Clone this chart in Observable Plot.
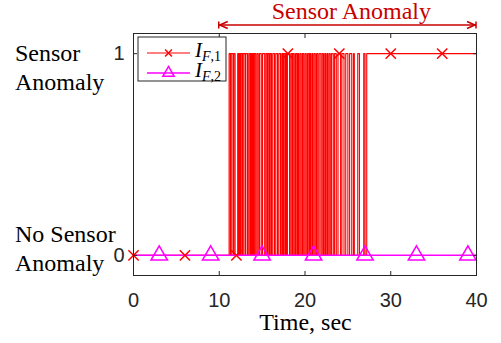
<!DOCTYPE html>
<html><head><meta charset="utf-8">
<script src="https://cdn.jsdelivr.net/npm/d3@7"></script>
<script src="https://cdn.jsdelivr.net/npm/@observablehq/plot@0.6"></script>
<style>body{margin:0;background:#fff} #chart{width:501px;height:343px;position:relative}</style>
</head><body><div id="chart"></div>
<script>
// ---- data ----
const xTicks = [0, 10, 20, 30, 40];
const yTicks = [0, 1];
const tStart = 0, tEnd = 40;
// times at which I_F,1 flips (first flip 0 -> 1)
const toggleTimes = [
  11.15, 11.30, 11.40, 11.60, 11.70, 11.85, 12.15, 12.25, 12.35, 12.45,
  12.55, 12.70, 12.80, 13.00, 13.10, 13.30, 13.45, 13.60, 13.70, 13.80,
  13.90, 14.00, 14.10, 14.25, 14.40, 14.55, 14.70, 14.90, 15.05, 15.30,
  15.45, 15.60, 15.70, 15.85, 15.95, 16.10, 16.25, 16.45, 16.60, 16.80,
  16.95, 17.15, 17.30, 17.40, 17.50, 17.65, 17.75, 17.85, 17.95, 18.20,
  18.35, 18.50, 18.60, 18.75, 18.90, 19.05, 19.15, 19.25, 19.40, 19.55,
  19.70, 19.85, 20.00, 20.15, 20.30, 20.45, 20.55, 20.65, 20.80, 20.90,
  21.05, 21.20, 21.35, 21.50, 21.65, 21.85, 22.00, 22.15, 22.30, 22.40,
  22.55, 22.65, 22.80, 22.95, 23.10, 23.30, 23.45, 23.65, 23.85, 24.15,
  24.30, 24.55, 24.75, 25.00, 25.20, 25.45, 25.65, 25.75, 26.15, 26.35,
  26.85, 27.00, 27.20
];
const redMarkerTimes = [0, 6, 12, 18, 24, 30, 36];
const redMarkerValues = [0, 0, 0, 1, 1, 1, 1];
const magentaLineTimes = [0, 40];
const magentaLineValues = [0, 0];
const magentaMarkerTimes = [3, 9, 15, 21, 27, 33, 39];
const magentaMarkerValues = [0, 0, 0, 0, 0, 0, 0];
const annotationSpan = [10, 40];
const annotationText = "Sensor Anomaly";
const stateLabels = [{v: 1, lines: ["Sensor", "Anomaly"]}, {v: 0, lines: ["No Sensor", "Anomaly"]}];
const legendItems = [{sub: "1", color: "#ff0000", symbol: "times"}, {sub: "2", color: "#ff00ff", symbol: "triangle"}];

// ---- tables ----
const redSeries = [{t: tStart, v: 0}];
toggleTimes.forEach((t, i) => redSeries.push({t, v: i % 2 === 0 ? 1 : 0}));
redSeries.push({t: tEnd, v: redSeries[redSeries.length - 1].v});
const redMarkers = redMarkerTimes.map((t, i) => ({t, v: redMarkerValues[i]}));
const magentaLine = magentaLineTimes.map((t, i) => ({t, v: magentaLineValues[i]}));
const magentaMarkers = magentaMarkerTimes.map((t, i) => ({t, v: magentaMarkerValues[i]}));

const axisColor = "#262626";
const serif = "'Liberation Serif', 'Times New Roman', serif";
const sans = "'Liberation Sans', Arial, Helvetica, sans-serif";
const RED = "#ff0000", MAG = "#ff00ff", DARKRED = "#c80000";

const plot = Plot.plot({
  width: 501, height: 343,
  marginLeft: 133, marginRight: 25, marginTop: 33, marginBottom: 68,
  x: {domain: [0, 40]},
  y: {domain: [-0.1, 1.1]},
  style: {fontFamily: sans, fontSize: "20px", color: axisColor, background: "white", overflow: "visible"},
  marks: [
    Plot.line(redSeries, {x: "t", y: "v", curve: "step-after", stroke: RED, strokeWidth: 1.1}),
    Plot.line(magentaLine, {x: "t", y: "v", stroke: MAG, strokeWidth: 1.5}),
    Plot.dot(redMarkers, {x: "t", y: "v", symbol: "times", r: 4.75, stroke: RED, strokeWidth: 1.5}),
    Plot.dot(magentaMarkers, {x: "t", y: "v", symbol: "triangle", r: 6.1, stroke: MAG, strokeWidth: 1.5, fill: "none"}),
    Plot.frame({stroke: axisColor, strokeWidth: 1}),
    Plot.axisX({anchor: "bottom", ticks: xTicks, tickSize: -4, tickPadding: 21, tickFormat: d => String(d), label: null}),
    Plot.axisX({anchor: "top", ticks: xTicks, tickSize: -4, tickFormat: () => "", label: null}),
    Plot.axisY({anchor: "left", ticks: yTicks, tickSize: -4, tickPadding: 13, tickFormat: d => String(d), label: null}),
    Plot.axisY({anchor: "right", ticks: yTicks, tickSize: -4, tickFormat: () => "", label: null})
  ]
});
document.getElementById("chart").appendChild(plot);

// ---- annotations using the plot's own scales ----
const sx = plot.scale("x"), sy = plot.scale("y");
const X = v => sx.apply(v), Y = v => sy.apply(v);
const svg = d3.select(plot);
const frameTop = Y(1.1), frameBottom = Y(-0.1), frameLeft = X(0), frameRight = X(40);

// x-axis title
svg.append("text").attr("x", (frameLeft + frameRight) / 2 + 1).attr("y", frameBottom + 55)
  .attr("text-anchor", "middle").attr("font-family", serif).attr("font-size", 24).attr("fill", "#000")
  .text("Time, sec");

// state labels
stateLabels.forEach(s => {
  const base = s.v === 1 ? Y(1) + 8 : Y(0) - 13;
  s.lines.forEach((ln, i) => {
    svg.append("text").attr("x", 15).attr("y", base + i * 29).attr("text-anchor", "start")
      .attr("font-family", serif).attr("font-size", 24).attr("fill", "#000").text(ln);
  });
});

// top "Sensor Anomaly" double arrow
const ay = frameTop - 8;
const ax0 = X(annotationSpan[0]), ax1 = X(annotationSpan[1]);
const g = svg.append("g").attr("stroke", DARKRED).attr("stroke-width", 1.5).attr("fill", "none");
g.append("line").attr("x1", ax0).attr("x2", ax1).attr("y1", ay).attr("y2", ay);
g.append("line").attr("x1", ax0).attr("x2", ax0).attr("y1", ay - 3.5).attr("y2", ay + 3.5);
g.append("line").attr("x1", ax1).attr("x2", ax1).attr("y1", ay - 3.5).attr("y2", ay + 3.5);
g.append("path").attr("d", `M${ax0 + 9},${ay - 3.5}L${ax0 + 1},${ay}L${ax0 + 9},${ay + 3.5}`);
g.append("path").attr("d", `M${ax1 - 9},${ay - 3.5}L${ax1 - 1},${ay}L${ax1 - 9},${ay + 3.5}`);
svg.append("text").attr("x", (ax0 + ax1) / 2 + 4).attr("y", ay - 6)
  .attr("text-anchor", "middle").attr("font-family", serif).attr("font-size", 24).attr("fill", DARKRED)
  .text(annotationText);

// legend
const lg = svg.append("g");
const lx = frameLeft + 5, ly = frameTop + 4;
lg.append("rect").attr("x", lx).attr("y", ly).attr("width", 88).attr("height", 44)
  .attr("fill", "white").attr("stroke", axisColor).attr("stroke-width", 1);
legendItems.forEach((it, i) => {
  const cy = ly + 16 + i * 20;
  lg.append("line").attr("x1", lx + 9).attr("x2", lx + 52).attr("y1", cy).attr("y2", cy)
    .attr("stroke", it.color).attr("stroke-width", it.symbol === "times" ? 1 : 1.5);
  const sym = it.symbol === "times" ? d3.symbolTimes : d3.symbolTriangle;
  const size = it.symbol === "times" ? Math.PI * 3.2 * 3.2 : Math.PI * 4.2 * 4.2;
  lg.append("path").attr("transform", `translate(${lx + 30.5},${cy})`)
    .attr("d", d3.symbol(sym, size)()).attr("fill", "none").attr("stroke", it.color).attr("stroke-width", 1.5);
  const t = lg.append("text").attr("x", lx + 57).attr("y", cy + 4).attr("text-anchor", "start")
    .attr("font-family", serif).attr("font-size", 21).attr("fill", "#000");
  t.append("tspan").attr("font-style", "italic").text("I");
  t.append("tspan").attr("font-size", 14).attr("dy", 4).attr("font-style", "italic").text("F");
  t.append("tspan").attr("font-size", 14).text("," + it.sub);
});
</script>
</body></html>
